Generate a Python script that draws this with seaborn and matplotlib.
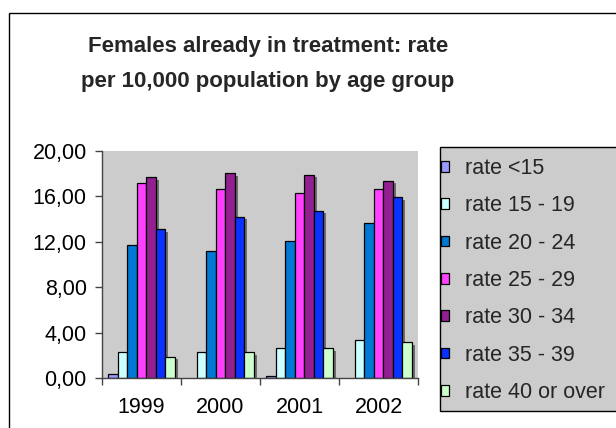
import numpy as np
import pandas as pd
import matplotlib
matplotlib.use("Agg")
import matplotlib.pyplot as plt
import matplotlib.patheffects as pe
from matplotlib.patches import Rectangle
from matplotlib.ticker import FixedLocator, FuncFormatter
import seaborn as sns

# Rates per 10,000 population, one list per age group, in year order
years = ["1999", "2000", "2001", "2002"]
rate_under_15 = [0.32, np.nan, 0.18, np.nan]
rate_15_19 = [2.26, 2.26, 2.61, 3.32]
rate_20_24 = [11.72, 11.22, 12.10, 13.69]
rate_25_29 = [17.18, 16.65, 16.33, 16.65]
rate_30_34 = [17.71, 18.06, 17.91, 17.39]
rate_35_39 = [13.13, 14.21, 14.74, 15.95]
rate_40_plus = [1.88, 2.26, 2.61, 3.14]

groups = ["rate <15", "rate 15 - 19", "rate 20 - 24", "rate 25 - 29",
          "rate 30 - 34", "rate 35 - 39", "rate 40 or over"]
series = [rate_under_15, rate_15_19, rate_20_24, rate_25_29,
          rate_30_34, rate_35_39, rate_40_plus]
colors = ["#9999FF", "#CCFFFF", "#0078D4", "#FF40FF",
          "#922090", "#0A32FF", "#CCFFCC"]
y_ticks = [0, 4, 8, 12, 16, 20]

df = pd.DataFrame(
    [(y, g, v) for g, vals in zip(groups, series) for y, v in zip(years, vals)],
    columns=["year", "group", "rate"],
)

sns.set_theme(style="white")
plt.rcParams["font.family"] = ["Liberation Sans", "DejaVu Sans"]

W, H = 616, 428
fig = plt.figure(figsize=(W / 100, H / 100), dpi=100)
fig.patch.set_facecolor("white")


def fx(px):
    return px / W


def fy(px):
    return 1 - px / H


# Chart frame running off the right and bottom edges
fig.patches.append(Rectangle((fx(8.5), -0.1), 1.2, fy(13.5) + 0.1,
                             transform=fig.transFigure, facecolor="none",
                             edgecolor="black", linewidth=1.0))

# Legend panel
fig.patches.append(Rectangle((fx(439.5), fy(411)), 1.0, fy(147) - fy(411),
                             transform=fig.transFigure, facecolor="#CCCCCC",
                             edgecolor="black", linewidth=1.0))

ax = fig.add_axes([fx(102), fy(378), fx(418) - fx(102), fy(151) - fy(378)])
ax.set_facecolor("#CCCCCC")

sns.barplot(data=df, x="year", y="rate", hue="group", hue_order=groups,
            palette=colors, saturation=1, errorbar=None, width=0.85,
            edgecolor="black", linewidth=0.9, ax=ax, legend=True)

shadow = [pe.SimplePatchShadow(offset=(2, -2), shadow_rgbFace="#555555", alpha=0.8),
          pe.Normal()]
for patch in ax.patches:
    patch.set_path_effects(shadow)

ax.set_ylim(0, 20)
ax.set_xlim(-0.5, 3.5)
ax.set_xlabel("")
ax.set_ylabel("")

for side in ["top", "right"]:
    ax.spines[side].set_visible(False)
for side in ["left", "bottom"]:
    ax.spines[side].set_color("#444444")
    ax.spines[side].set_linewidth(1.0)

ax.yaxis.set_major_locator(FixedLocator(y_ticks))
ax.yaxis.set_major_formatter(FuncFormatter(lambda v, _: f"{v:.2f}".replace(".", ",")))
ax.tick_params(axis="y", which="major", direction="out", length=5, width=1,
               color="#444444", left=True, labelsize=15.5, labelcolor="black", pad=6)

# Category labels centred under groups, tick marks between groups
ax.xaxis.set_major_locator(FixedLocator([-0.5, 0.5, 1.5, 2.5, 3.5]))
ax.xaxis.set_minor_locator(FixedLocator(range(len(years))))
ax.xaxis.set_major_formatter(FuncFormatter(lambda v, _: ""))
ax.xaxis.set_minor_formatter(FuncFormatter(lambda v, _: years[int(round(v))]))
ax.tick_params(axis="x", which="major", direction="out", length=5, width=1,
               color="#444444", bottom=True)
ax.tick_params(axis="x", which="minor", length=0, labelsize=15.5,
               labelcolor="black", pad=14)

handles, labels = ax.get_legend_handles_labels()
ax.legend_.remove()
leg = fig.legend(handles, labels, loc="upper left",
                 bbox_to_anchor=(fx(441), fy(158)),
                 bbox_transform=fig.transFigure,
                 fontsize=15.5, frameon=False,
                 handlelength=0.38, handleheight=0.38, handletextpad=0.75,
                 labelspacing=0.76, borderpad=0, borderaxespad=0)
for h in leg.legend_handles:
    h.set_path_effects([])

fig.text(fx(268), fy(87),
         "Females already in treatment: rate\nper 10,000 population by age group",
         ha="center", va="baseline", fontsize=16, fontweight="bold",
         linespacing=1.85)

fig.savefig("out.png", dpi=100)
